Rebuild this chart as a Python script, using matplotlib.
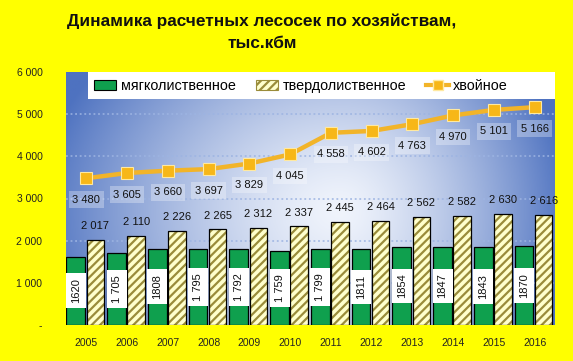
import numpy as np
import matplotlib
matplotlib.use("Agg")
import matplotlib.pyplot as plt
from matplotlib.patches import Patch
from matplotlib.lines import Line2D

years = ["2005", "2006", "2007", "2008", "2009", "2010", "2011", "2012", "2013", "2014", "2015", "2016"]
soft = [1620, 1705, 1808, 1795, 1792, 1759, 1799, 1811, 1854, 1847, 1843, 1870]
soft_labels = ["1620", "1 705", "1808", "1 795", "1 792", "1 759", "1 799", "1811", "1854", "1847", "1843", "1870"]
hard = [2017, 2110, 2226, 2265, 2312, 2337, 2445, 2464, 2562, 2582, 2630, 2616]
conif = [3480, 3605, 3660, 3697, 3829, 4045, 4558, 4602, 4763, 4970, 5101, 5166]
yticks = [0, 1000, 2000, 3000, 4000, 5000, 6000]
ytick_labels = ["-", "1 000", "2 000", "3 000", "4 000", "5 000", "6 000"]

def fmt(v):
    return f"{v:,}".replace(",", " ")

plt.rcParams['font.family'] = ['Liberation Sans', 'DejaVu Sans']
plt.rcParams['hatch.linewidth'] = 1.6

W, H = 573, 361
fig = plt.figure(figsize=(W/100, H/100), dpi=100, facecolor='#FFFF00')
ax = fig.add_axes([66/W, 1-325/H, (555-66)/W, (325-72)/H])
ax.set_xlim(-0.5, len(years)-0.5)
ax.set_ylim(0, 6000)

# gradient background
nx, ny = 300, 200
xs = np.linspace(0, 1, nx)
ys = np.linspace(1, 0, ny)
X, Y = np.meshgrid(xs, ys)
cx, cy = 0.56, 0.45
rx = np.where(X < cx, 0.62, 0.47)
d = np.sqrt(((X-cx)/rx)**2 + ((Y-cy)/0.95)**2)
s = np.clip(d, 0, 1)**1.4
blue = np.array([78, 114, 192])/255
white = np.array([240, 244, 252])/255
img = white[None, None, :]*(1-s[..., None]) + blue[None, None, :]*s[..., None]
ax.imshow(img, extent=[0, 1, 0, 1], transform=ax.transAxes, aspect='auto', zorder=0)

for sp in ax.spines.values():
    sp.set_visible(False)
ax.set_yticks(yticks)
ax.set_yticklabels(ytick_labels, fontsize=7.5, color='#222222')
ax.tick_params(axis='y', length=0, pad=17)
x = np.arange(len(years))
ax.set_xticks(x)
ax.set_xticklabels(years, fontsize=7.5, color='#222222')
ax.tick_params(axis='x', length=0, pad=9)
for yv in yticks[1:-1]:
    ax.axhline(yv, color='#9DB4E2', lw=1.1, ls=(0, (1.2, 1.8)), zorder=1)

green = '#0FA04E'
gx = x - 0.26
hx = x + 0.22
ax.bar(gx, soft, width=0.46, color=green, edgecolor='black', lw=0.9, zorder=2)
ax.bar(hx, hard, width=0.43, color='#FFFFCC', edgecolor='#9A8C3A', hatch='////', lw=0, zorder=2)
ax.bar(hx, hard, width=0.43, fill=False, edgecolor='black', lw=0.9, zorder=2.1)

for xi, v, lab in zip(gx, soft, soft_labels):
    ax.text(xi, v/2, lab, rotation=90, ha='center', va='center', fontsize=8, color='#111111',
            bbox=dict(boxstyle='square,pad=0.45', fc='white', ec='none'), zorder=3)
for xi, v in zip(hx, hard):
    ax.annotate(fmt(v), (xi, v), xytext=(0, 10), textcoords='offset points', ha='center', va='center',
                fontsize=8, color='#111111', zorder=3)

gold = '#F2B429'
ax.plot(x, conif, color=gold, lw=3.2, marker='s', ms=8.5, mfc='#F7B718', mec='#FFE9A0', mew=0.8, zorder=4)
for xi, v in zip(x, conif):
    ax.annotate(fmt(v), (xi, v), xytext=(0, -15.5), textcoords='offset points', ha='center', va='center',
                fontsize=8, color='#111111', zorder=5,
                bbox=dict(boxstyle='square,pad=0.3', fc='white', ec='none', alpha=0.3))

handles = [Patch(fc=green, ec='black', lw=0.8),
           Patch(fc='#FFFFCC', ec='#9A8C3A', hatch='////', lw=0.8),
           Line2D([0], [0], color=gold, lw=3, marker='s', ms=7, mfc='#F7B718', mec='#FFE9A0')]
leg = fig.legend(handles, ["мягколиственное", "твердолиственное", "хвойное"],
                 loc='center', bbox_to_anchor=(301/W, 1-86/H), ncol=3, fontsize=10.4,
                 frameon=False, handlelength=1.55, handletextpad=0.3, columnspacing=1.4)
fig.patches.append(plt.Rectangle((88/W, 1-99/H), (555-88)/W, 27/H, transform=fig.transFigure,
                                 fc='white', ec='none', zorder=5))
leg.set_zorder(6)

fig.text(262/W, 1-21/H, "Динамика расчетных лесосек по хозяйствам,", ha='center', va='center',
         fontsize=12.4, fontweight='bold', color='#111111')
fig.text(262/W, 1-44/H, "тыс.кбм", ha='center', va='center', fontsize=12.4, fontweight='bold', color='#111111')

fig.savefig('out.png', dpi=100, facecolor='#FFFF00')
